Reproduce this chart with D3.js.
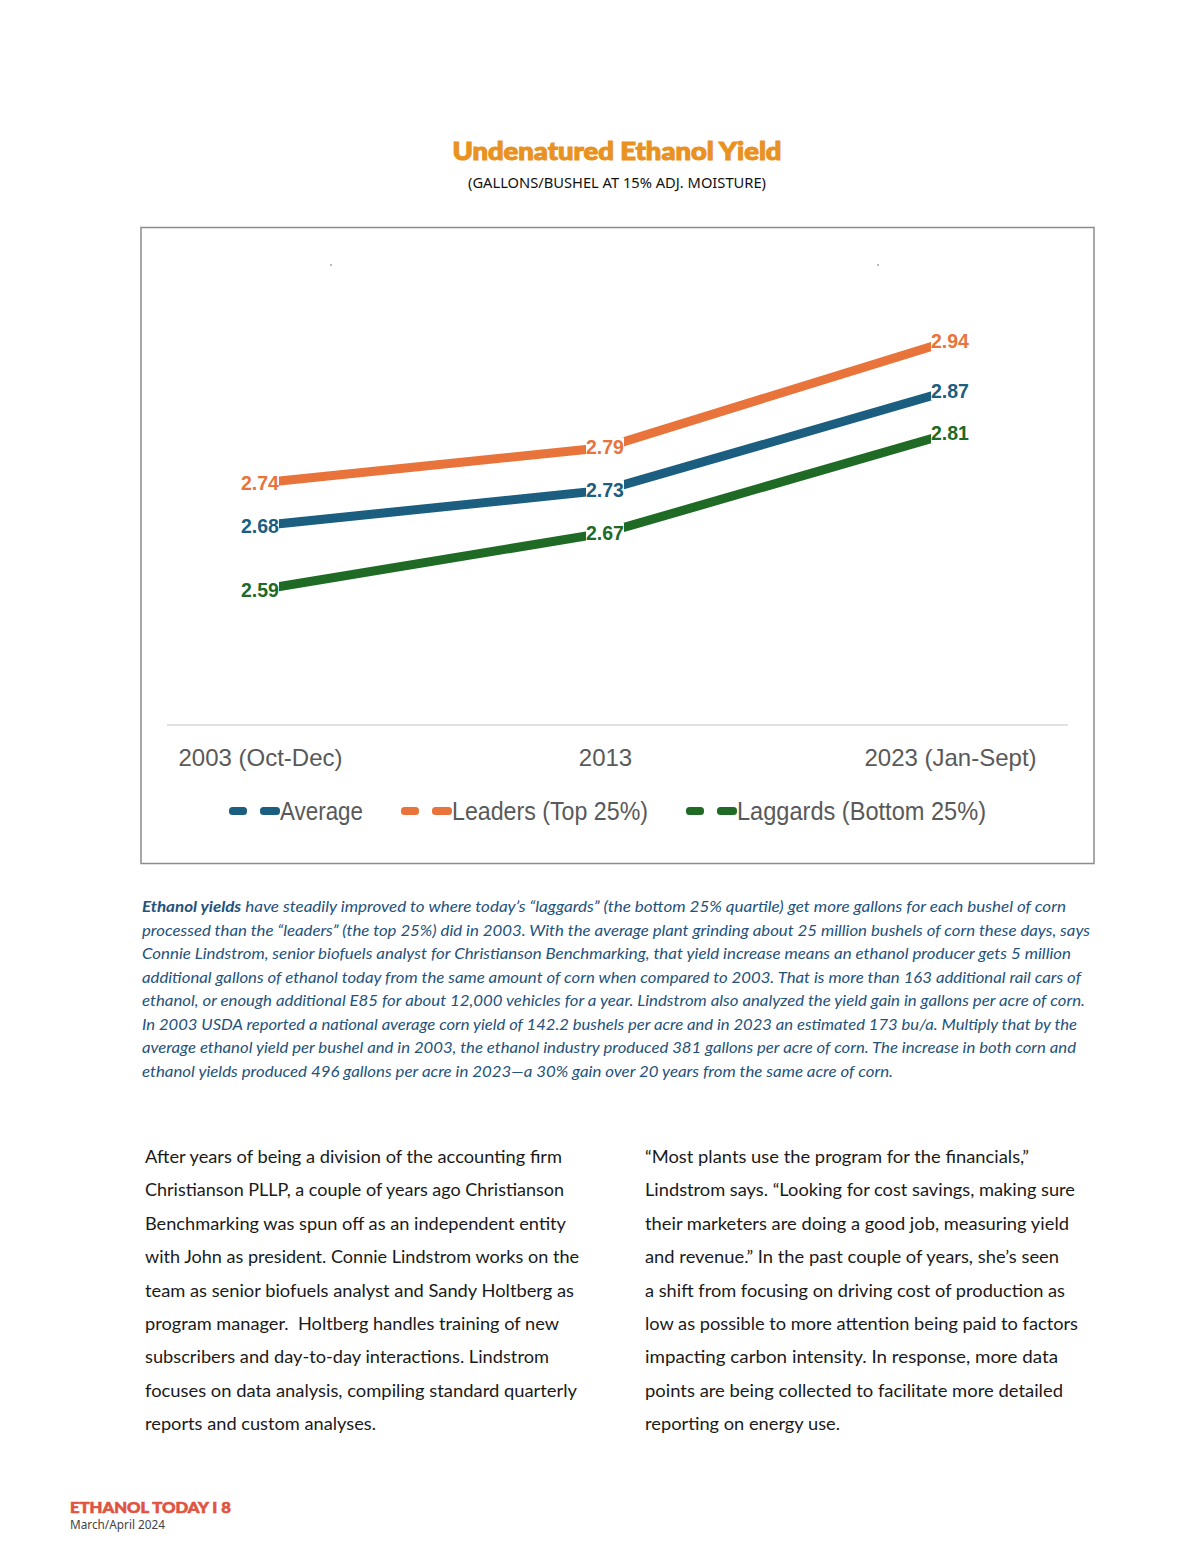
<!DOCTYPE html>
<html>
<head>
<meta charset="utf-8">
<script src="https://cdn.jsdelivr.net/npm/d3@7"></script>
<style>
  html, body { margin: 0; padding: 0; background: #fff; }
  svg { display: block; }
</style>
</head>
<body>
<svg id="page" width="1200" height="1553"></svg>
<script>
// chart values
const categories = ["2003 (Oct-Dec)", "2013", "2023 (Jan-Sept)"];
const average = [2.68, 2.73, 2.87];
const leaders = [2.74, 2.79, 2.94];
const laggards = [2.59, 2.67, 2.81];

const seriesNames = ["Average", "Leaders (Top 25%)", "Laggards (Bottom 25%)"];
const seriesColors = ["#1b5e80", "#e8743b", "#1f6b25"];

const captionLines = [
  ["Ethanol yields", " have steadily improved to where today’s “laggards” (the bottom 25% quartile) get more gallons for each bushel of corn"],
  ["", "processed than the “leaders” (the top 25%) did in 2003. With the average plant grinding about 25 million bushels of corn these days, says"],
  ["", "Connie Lindstrom, senior biofuels analyst for Christianson Benchmarking, that yield increase means an ethanol producer gets 5 million"],
  ["", "additional gallons of ethanol today from the same amount of corn when compared to 2003. That is more than 163 additional rail cars of"],
  ["", "ethanol, or enough additional E85 for about 12,000 vehicles for a year. Lindstrom also analyzed the yield gain in gallons per acre of corn."],
  ["", "In 2003 USDA reported a national average corn yield of 142.2 bushels per acre and in 2023 an estimated 173 bu/a. Multiply that by the"],
  ["", "average ethanol yield per bushel and in 2003, the ethanol industry produced 381 gallons per acre of corn. The increase in both corn and"],
  ["", "ethanol yields produced 496 gallons per acre in 2023—a 30% gain over 20 years from the same acre of corn."]
];
const captionEnds = [1066, 1090, 1071, 1081, 1085, 1077, 1076, 893];

const leftColumn = [
  "After years of being a division of the accounting firm",
  "Christianson PLLP, a couple of years ago Christianson",
  "Benchmarking was spun off as an independent entity",
  "with John as president. Connie Lindstrom works on the",
  "team as senior biofuels analyst and Sandy Holtberg as",
  "program manager.  Holtberg handles training of new",
  "subscribers and day-to-day interactions. Lindstrom",
  "focuses on data analysis, compiling standard quarterly",
  "reports and custom analyses."
];
const leftEnds = [562, 564, 566, 579, 574, 559, 549, 577, 376];

const rightColumn = [
  "“Most plants use the program for the financials,”",
  "Lindstrom says. “Looking for cost savings, making sure",
  "their marketers are doing a good job, measuring yield",
  "and revenue.” In the past couple of years, she’s seen",
  "a shift from focusing on driving cost of production as",
  "low as possible to more attention being paid to factors",
  "impacting carbon intensity. In response, more data",
  "points are being collected to facilitate more detailed",
  "reporting on energy use."
];
const rightEnds = [1029, 1075, 1069, 1059, 1065, 1078, 1058, 1063, 840];

const svg = d3.select("#page");

// title block
svg.append("text")
  .attr("x", 617).attr("y", 160)
  .attr("text-anchor", "middle")
  .attr("font-family", "Lato, 'Open Sans', sans-serif")
  .attr("font-weight", 900)
  .attr("font-size", 25)
  .attr("fill", "#e9921f")
  .attr("stroke", "#e9921f").attr("stroke-width", 1.1)
  .attr("textLength", 329).attr("lengthAdjust", "spacingAndGlyphs")
  .text("Undenatured Ethanol Yield");

svg.append("text")
  .attr("x", 617).attr("y", 188)
  .attr("text-anchor", "middle")
  .attr("font-family", "'Noto Sans', sans-serif")
  .attr("font-size", 14)
  .attr("fill", "#111")
  .attr("textLength", 298).attr("lengthAdjust", "spacingAndGlyphs")
  .text("(GALLONS/BUSHEL AT 15% ADJ. MOISTURE)");

// chart frame
svg.append("rect")
  .attr("x", 141).attr("y", 227.5)
  .attr("width", 953).attr("height", 636)
  .attr("fill", "#fff")
  .attr("stroke", "#8c8c8c").attr("stroke-width", 1.5);

// faint specks seen in the frame
[331, 878].forEach(x => {
  svg.append("rect").attr("x", x - 1).attr("y", 264)
    .attr("width", 2).attr("height", 2).attr("fill", "#bbb");
});

const x = d3.scalePoint().domain(categories).range([260, 950]);
const y = d3.scaleLinear().domain([2.4, 3.0]).range([725, 298]);

// category axis
const xAxis = svg.append("g")
  .attr("transform", "translate(0,725)")
  .call(d3.axisBottom(x).tickSize(0).tickPadding(24));
xAxis.select(".domain").remove();
xAxis.append("line")
  .attr("x1", 167).attr("x2", 1068)
  .attr("stroke", "#d9d9d9").attr("stroke-width", 1.5);
xAxis.selectAll(".tick text")
  .attr("font-family", "'Liberation Sans', Arial, sans-serif")
  .attr("font-size", 24)
  .attr("fill", "#595959");

const allSeries = [average, leaders, laggards];
const line = d3.line()
  .x((d, i) => x(categories[i]))
  .y(d => y(d));

allSeries.forEach((values, s) => {
  svg.append("path")
    .datum(values)
    .attr("d", line)
    .attr("fill", "none")
    .attr("stroke", seriesColors[s])
    .attr("stroke-width", 9);
});

// data labels with white background, centred on the points
allSeries.forEach((values, s) => {
  const g = svg.append("g");
  values.forEach((v, i) => {
    const cx = x(categories[i]);
    const cy = y(v);
    g.append("rect")
      .attr("x", cx - 19).attr("y", cy - 10)
      .attr("width", 38).attr("height", 20)
      .attr("fill", "#fff");
    g.append("text")
      .attr("x", cx).attr("y", cy)
      .attr("dy", "0.36em")
      .attr("text-anchor", "middle")
      .attr("font-family", "'Liberation Sans', Arial, sans-serif")
      .attr("font-weight", "bold")
      .attr("font-size", 19.5)
      .attr("fill", seriesColors[s])
      .text(d3.format(".2f")(v));
  });
});

// legend
const legendX = [229, 401, 686];
const legendTextW = [83, 196, 249];
seriesNames.forEach((name, s) => {
  const g = svg.append("g").attr("transform", `translate(${legendX[s]},811)`);
  g.append("rect").attr("x", 0).attr("y", -4).attr("width", 18).attr("height", 8)
    .attr("rx", 3.5).attr("fill", seriesColors[s]);
  g.append("rect").attr("x", 31).attr("y", -4).attr("width", 20).attr("height", 8)
    .attr("rx", 3.5).attr("fill", seriesColors[s]);
  g.append("text")
    .attr("x", 51).attr("y", 0).attr("dy", "0.36em")
    .attr("font-family", "'Liberation Sans', Arial, sans-serif")
    .attr("font-size", 25)
    .attr("fill", "#595959")
    .attr("textLength", legendTextW[s]).attr("lengthAdjust", "spacingAndGlyphs")
    .text(name);
});

// caption below the chart
const cap = svg.append("g")
  .attr("font-family", "Lato, 'Noto Sans', sans-serif")
  .attr("font-style", "italic")
  .attr("font-size", 15.5)
  .attr("fill", "#23527c");
captionLines.forEach((parts, i) => {
  const t = cap.append("text")
    .attr("x", 142).attr("y", 912 + i * 23.5)
    .attr("textLength", captionEnds[i] - 142)
    .attr("lengthAdjust", "spacingAndGlyphs");
  if (parts[0]) t.append("tspan").attr("font-weight", "bold").text(parts[0]);
  t.append("tspan").text(parts[1]);
});

// two body columns
function column(lines, ends, x0) {
  const g = svg.append("g")
    .attr("font-family", "Lato, 'Noto Sans', sans-serif")
    .attr("font-size", 18)
    .attr("fill", "#1a1a1a");
  lines.forEach((txt, i) => {
    g.append("text")
      .attr("x", x0).attr("y", 1163 + i * 33.4)
      .attr("textLength", ends[i] - x0)
      .attr("lengthAdjust", "spacingAndGlyphs")
      .attr("xml:space", "preserve")
      .text(txt);
  });
}
column(leftColumn, leftEnds, 145);
column(rightColumn, rightEnds, 645);

// footer
svg.append("text")
  .attr("x", 70).attr("y", 1513)
  .attr("font-family", "Lato, 'Open Sans', sans-serif")
  .attr("font-weight", 900)
  .attr("font-size", 15)
  .attr("fill", "#e0543f")
  .attr("stroke", "#e0543f").attr("stroke-width", 0.6)
  .attr("textLength", 161).attr("lengthAdjust", "spacingAndGlyphs")
  .text("ETHANOL TODAY I 8");
svg.append("text")
  .attr("x", 70).attr("y", 1529)
  .attr("font-family", "'Noto Sans', sans-serif")
  .attr("font-size", 12)
  .attr("fill", "#444")
  .attr("textLength", 95).attr("lengthAdjust", "spacingAndGlyphs")
  .text("March/April 2024");
</script>
</body>
</html>
